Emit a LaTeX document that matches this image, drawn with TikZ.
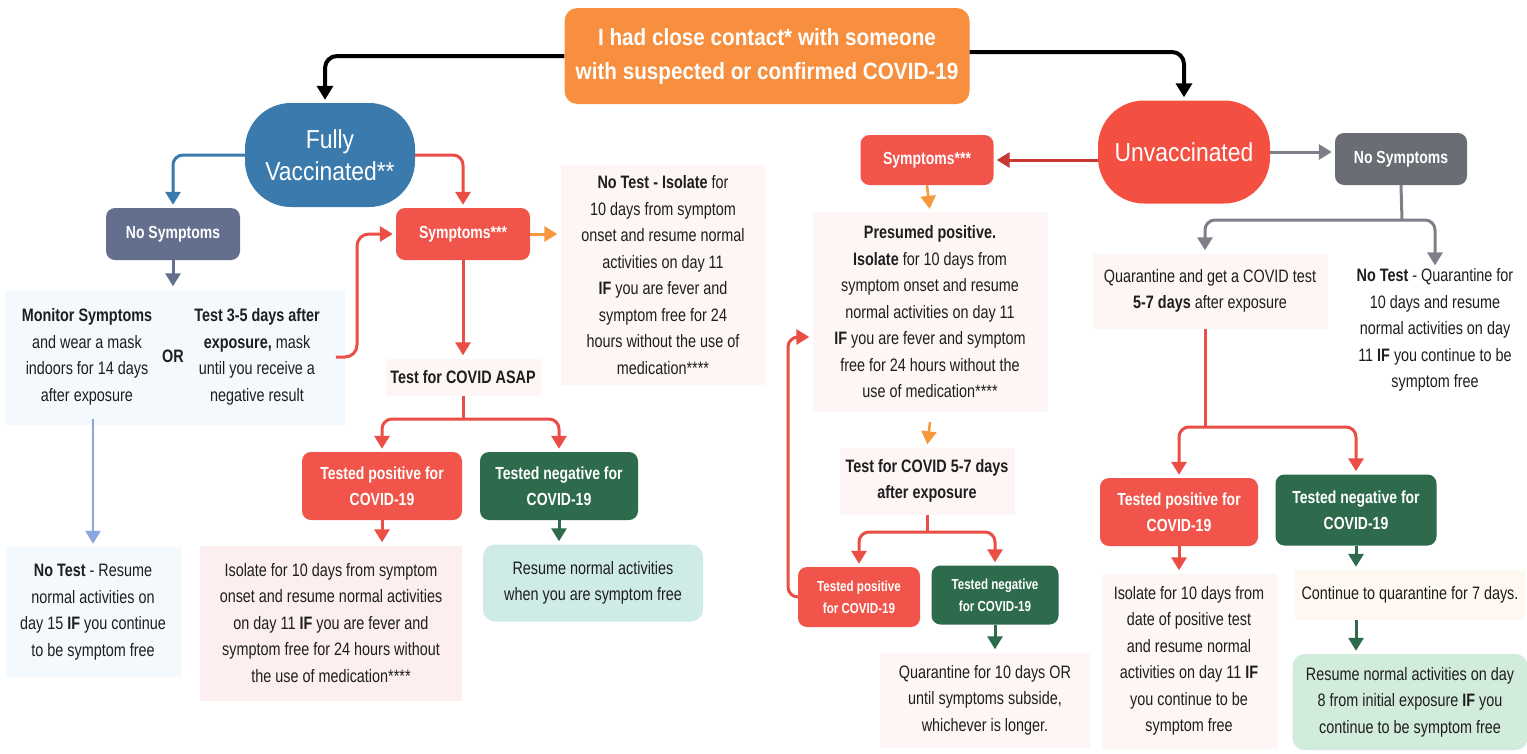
\documentclass[tikz,border=0pt]{standalone}
\usepackage{fontspec}
\setmainfont{Liberation Sans}[FakeStretch=0.8]
\newfontfamily\boxfamily{Liberation Sans}[FakeStretch=0.88]
\usetikzlibrary{arrows.meta}
\definecolor{ink}{RGB}{30,30,30}
\definecolor{orangeT}{RGB}{247,143,62}
\definecolor{orangeA}{RGB}{247,152,60}
\definecolor{blueV}{RGB}{58,122,172}
\definecolor{redU}{RGB}{244,80,66}
\definecolor{redB}{RGB}{240,84,74}
\definecolor{redA}{RGB}{234,78,68}
\definecolor{darkred}{RGB}{200,55,50}
\definecolor{greenB}{RGB}{46,107,76}
\definecolor{slate}{RGB}{99,111,140}
\definecolor{grayB}{RGB}{106,109,116}
\definecolor{grayA}{RGB}{125,128,136}
\definecolor{lightblueA}{RGB}{137,166,222}
\definecolor{paleblue}{RGB}{244,249,253}
\definecolor{palepink}{RGB}{254,246,245}
\definecolor{palepinkB}{RGB}{253,239,239}
\definecolor{paleteal}{RGB}{206,235,232}
\definecolor{palegreen}{RGB}{210,236,219}
\definecolor{paleyellow}{RGB}{254,248,240}
\begin{document}
\begin{tikzpicture}[x=1pt,y=-1pt,
  box/.style={rounded corners=9pt, text=white, align=center, inner sep=0pt,
    font=\bfseries\fontsize{17.5}{26}\selectfont},
  txt/.style={align=center, text=ink, inner sep=0pt, font=\fontsize{18}{26.5}\selectfont},
  arr/.style={line width=3pt, -{Triangle[width=15pt,length=13pt]}, shorten >=3pt},
  plain/.style={line width=3pt},
  blk/.style={arr, line width=4pt, draw=black, -{Triangle[width=16pt,length=14pt]}},
]
\useasboundingbox (0,0) rectangle (1527,753);
\fill[white] (0,0) rectangle (1527,753);

% ---------- top ----------
\node[box, fill=orangeT, minimum width=405pt, minimum height=96pt, rounded corners=13pt,
  font=\boxfamily\bfseries\fontsize{23.5}{34}\selectfont] (top) at (767,56)
  {I had close contact* with someone\\with suspected or confirmed COVID-19};
\node[box, fill=blueV, minimum width=170pt, minimum height=104pt, rounded corners=46pt,
  font=\boxfamily\fontsize{26}{32}\selectfont] (fv) at (330,155) {Fully\\Vaccinated**};
\node[box, fill=redU, minimum width=172pt, minimum height=103pt, rounded corners=46pt,
  font=\boxfamily\fontsize{26}{32}\selectfont] (uv) at (1184,152) {Unvaccinated};

% ---------- left branch ----------
\node[box, fill=slate, minimum width=134pt, minimum height=52pt] (nsL) at (173,234) {No Symptoms};
\node[box, fill=redB, minimum width=134pt, minimum height=52pt] (symL) at (463,234) {Symptoms***};
\node[fill=paleblue, minimum width=340pt, minimum height=135pt, inner sep=0pt] (bgL) at (175,357) {};
\node[txt] (monitor) at (87,357) {\textbf{Monitor Symptoms}\\and wear a mask\\indoors for 14 days\\after exposure};
\node[txt] (orL) at (173,356) {\textbf{OR}};
\node[txt] (test35) at (257,357) {\textbf{Test 3-5 days after}\\\textbf{exposure,} mask\\until you receive a\\negative result};
\node[txt, fill=paleblue, minimum width=175pt, minimum height=130pt] (notestL) at (93,612)
  {\textbf{No Test} - Resume\\normal activities on\\day 15 \textbf{IF} you continue\\to be symptom free};
\node[txt, fill=palepink, minimum width=205pt, minimum height=220pt] (symInfo) at (663,275)
  {\textbf{No Test - Isolate} for\\10 days from symptom\\onset and resume normal\\activities on day 11\\\textbf{IF} you are fever and\\symptom free for 24\\hours without the use of\\medication****};
\node[txt, fill=palepink, minimum width=155pt, minimum height=37pt] (asap) at (463,377) {\textbf{Test for COVID ASAP}};
\node[box, fill=redB, minimum width=160pt, minimum height=68pt] (tpL) at (382,486) {Tested positive for\\COVID-19};
\node[box, fill=greenB, minimum width=158pt, minimum height=68pt] (tnL) at (559,486) {Tested negative for\\COVID-19};
\node[txt, fill=palepinkB, minimum width=262pt, minimum height=155pt] (isoL) at (331,623)
  {Isolate for 10 days from symptom\\onset and resume normal activities\\on day 11 \textbf{IF} you are fever and\\symptom free for 24 hours without\\the use of medication****};
\node[txt, fill=paleteal, rounded corners=12pt, minimum width=220pt, minimum height=77pt] (resumeL) at (593,583)
  {Resume normal activities\\when you are symptom free};

% ---------- middle branch ----------
\node[box, fill=redB, minimum width=133pt, minimum height=50pt] (symR) at (927,160) {Symptoms***};
\node[txt, fill=palepink, minimum width=235pt, minimum height=200pt] (presumed) at (930,312)
  {\textbf{Presumed positive.}\\\textbf{Isolate} for 10 days from\\symptom onset and resume\\normal activities on day 11\\\textbf{IF} you are fever and symptom\\free for 24 hours without the\\use of medication****};
\node[txt, fill=palepink, minimum width=175pt, minimum height=67pt] (test57) at (927,481)
  {\textbf{Test for COVID 5-7 days}\\\textbf{after exposure}};
\node[box, fill=redB, minimum width=122pt, minimum height=60pt,
  font=\bfseries\fontsize{14.5}{22}\selectfont] (tpM) at (859,597) {Tested positive\\for COVID-19};
\node[box, fill=greenB, minimum width=127pt, minimum height=59pt,
  font=\bfseries\fontsize{14.5}{22}\selectfont] (tnM) at (995,595) {Tested negative\\for COVID-19};
\node[txt, fill=palepink, minimum width=210pt, minimum height=95pt] (quarM) at (985,700)
  {Quarantine for 10 days OR\\until symptoms subside,\\whichever is longer.};

% ---------- right branch ----------
\node[box, fill=grayB, minimum width=132pt, minimum height=52pt] (nsR) at (1401,159) {No Symptoms};
\node[txt, fill=palepink, minimum width=235pt, minimum height=75pt] (quarTest) at (1210,291)
  {Quarantine and get a COVID test\\\textbf{5-7 days} after exposure};
\node[txt] (notestR) at (1435,330)
  {\textbf{No Test} - Quarantine for\\10 days and resume\\normal activities on day\\11 \textbf{IF} you continue to be\\symptom free};
\node[box, fill=redB, minimum width=158pt, minimum height=68pt] (tpR) at (1179,512) {Tested positive for\\COVID-19};
\node[box, fill=greenB, minimum width=161pt, minimum height=71pt] (tnR) at (1356,510) {Tested negative for\\COVID-19};
\node[txt, fill=palepink, minimum width=175pt, minimum height=175pt] (isoR) at (1189,661)
  {Isolate for 10 days from\\date of positive test\\and resume normal\\activities on day 11 \textbf{IF}\\you continue to be\\symptom free};
\node[txt, fill=paleyellow, minimum width=230pt, minimum height=50pt] (cont7) at (1410,595)
  {Continue to quarantine for 7 days.};
\node[txt, fill=palegreen, rounded corners=12pt, minimum width=235pt, minimum height=96pt] (resumeR) at (1410,702)
  {Resume normal activities on day\\8 from initial exposure \textbf{IF} you\\continue to be symptom free};

% ---------- split points ----------
\coordinate (spL) at (463,419);
\coordinate (spM) at (927,532);
\coordinate (spR) at (1402,220);
\coordinate (spR2) at (1205,427);
\coordinate (kinkL) at (357,0);
\coordinate (kinkM) at (788,0);

% ---------- connectors ----------
\draw[blk, rounded corners=12pt] (top.west) -| ([xshift=-5pt]fv.north);
\draw[blk, rounded corners=12pt] ([yshift=4pt]top.east) -| (uv.north);

\draw[arr, draw=blueV, rounded corners=10pt] (fv.west) -| (nsL.north);
\draw[arr, draw=redA, rounded corners=10pt] (fv.east) -| (symL.north);
\draw[arr, draw=slate] (nsL.south) -- (nsL.south |- bgL.north);
\draw[arr, draw=lightblueA, line width=2.5pt] ([yshift=-14pt]notestL.north |- monitor.south) -- (notestL.north);
\draw[arr, draw=redA, rounded corners=12pt] ([xshift=16pt]test35.east) -| (kinkL |- symL.west) -- (symL.west);
\draw[arr, draw=orangeA] (symL.east) -- (symL.east -| symInfo.west);
\draw[arr, draw=redA] (symL.south) -- (asap.north);
\draw[plain, draw=redA] (asap.south) -- (spL);
\draw[arr, draw=redA, rounded corners=10pt] (spL) -| (tpL.north);
\draw[arr, draw=redA, rounded corners=10pt] (spL) -| (tnL.north);
\draw[arr, draw=redA] (tpL.south) -- (tpL.south |- isoL.north);
\draw[arr, draw=greenB] (tnL.south) -- (tnL.south |- resumeL.north);

\draw[arr, draw=darkred] (uv.west |- symR.east) -- (symR.east);
\draw[arr, draw=orangeA, line width=2.5pt] (symR.south) -- (presumed.north);
\draw[arr, draw=orangeA, line width=2.5pt] ([yshift=-10pt]presumed.south) -- (test57.north);
\draw[plain, draw=redA] (test57.south) -- (spM);
\draw[arr, draw=redA, rounded corners=10pt] (spM) -| (tpM.north);
\draw[arr, draw=redA, rounded corners=10pt] (spM) -| (tnM.north);
\draw[arr, draw=redA, rounded corners=10pt] (tpM.west) -- (kinkM |- tpM.west)
  -- ([yshift=-25pt]kinkM |- presumed.west) -- ([yshift=-25pt]presumed.west);
\draw[arr, draw=greenB] (tnM.south) -- (tnM.south |- quarM.north);

\draw[arr, draw=grayA] (uv.east) -- (uv.east -| nsR.west);
\draw[plain, draw=grayA] (nsR.south) -- (spR);
\draw[arr, draw=grayA, rounded corners=10pt] (spR) -| (spR2 |- quarTest.north);
\draw[arr, draw=grayA, rounded corners=10pt] (spR) -| (notestR.north);
\draw[plain, draw=redA] (spR2 |- quarTest.south) -- (spR2);
\draw[arr, draw=redA, rounded corners=10pt] (spR2) -| (tpR.north);
\draw[arr, draw=redA, rounded corners=10pt] (spR2) -| (tnR.north);
\draw[arr, draw=redA] (tpR.south) -- (tpR.south |- isoR.north);
\draw[arr, draw=greenB] (tnR.south) -- (tnR.south |- cont7.north);
\draw[arr, draw=greenB] (cont7.south -| tnR.south) -- (resumeR.north -| tnR.south);
\end{tikzpicture}
\end{document}
